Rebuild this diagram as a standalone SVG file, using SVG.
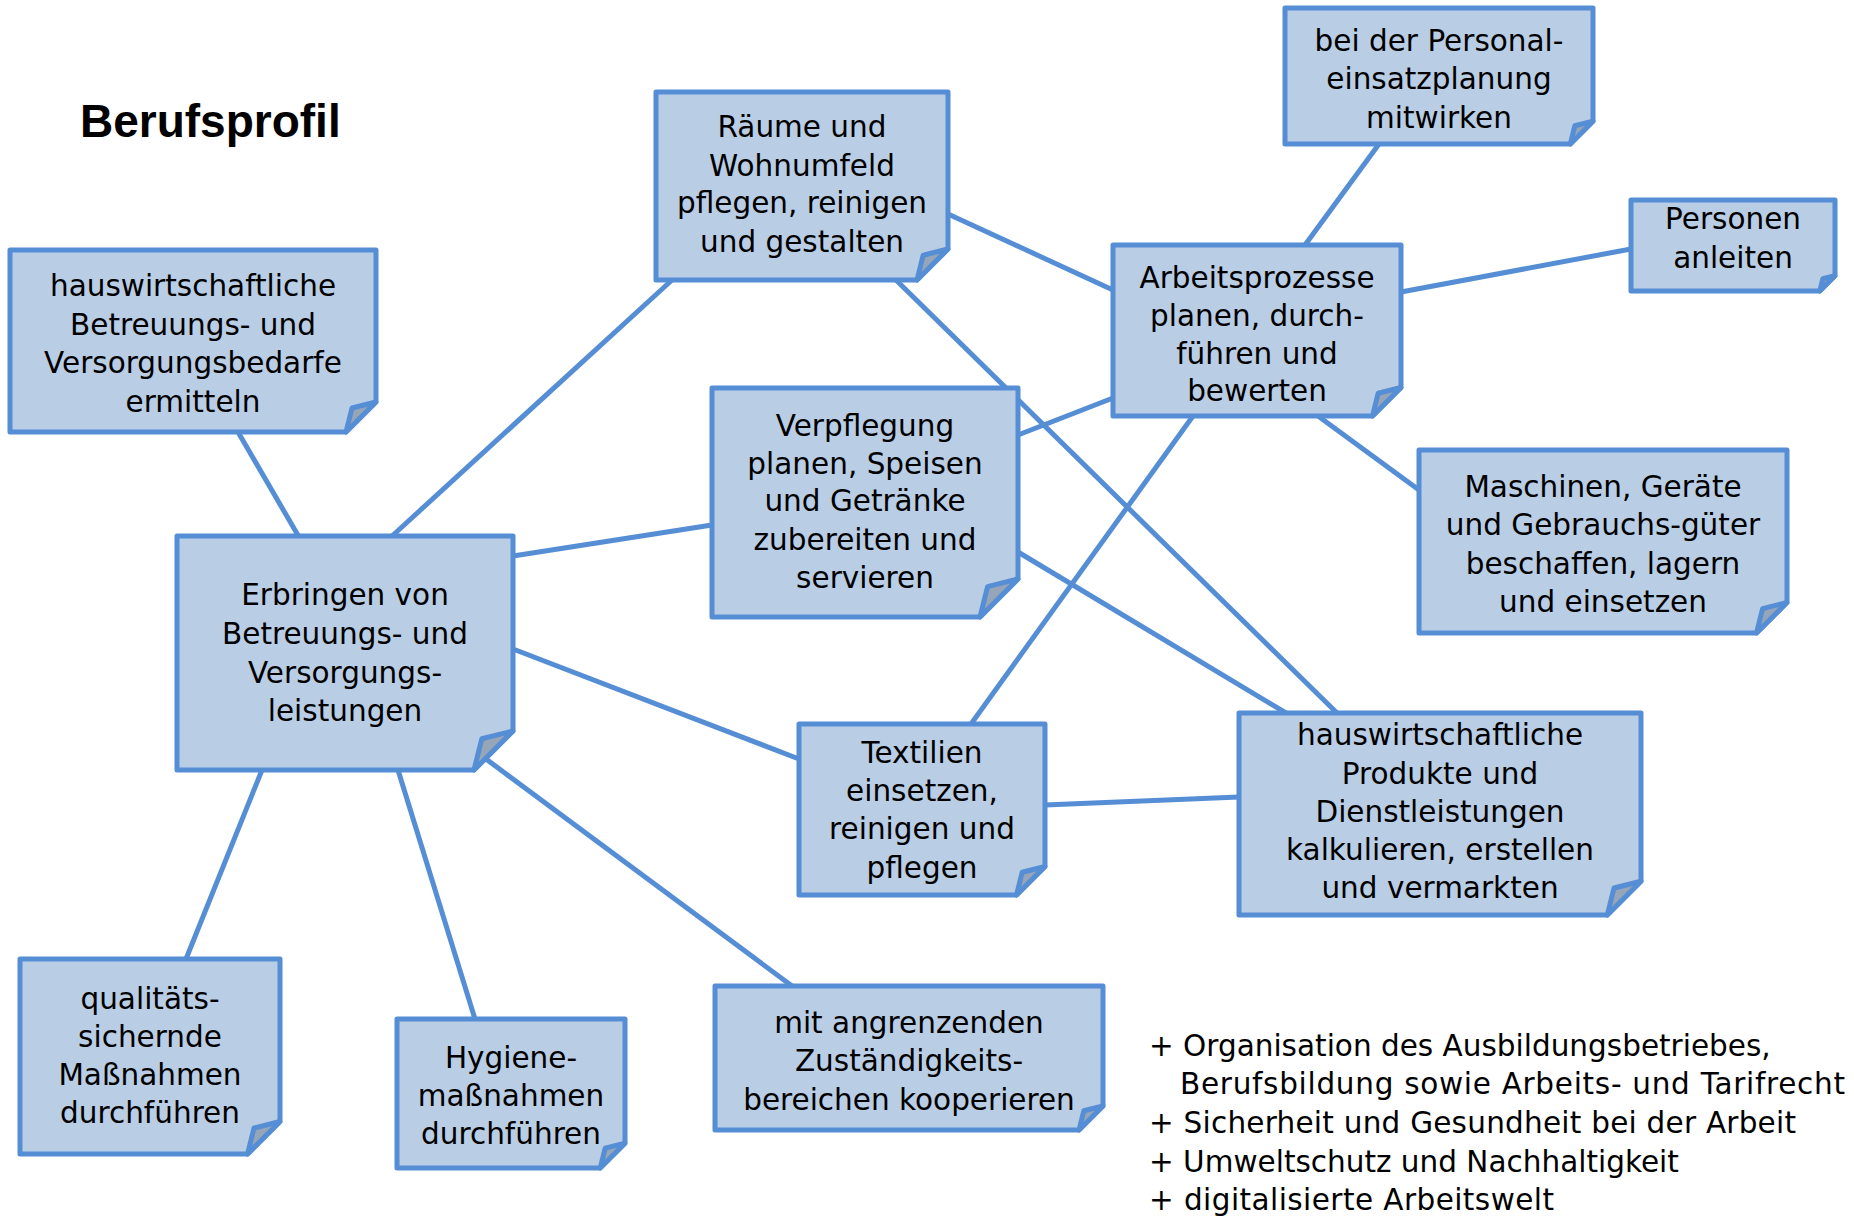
<svg xmlns="http://www.w3.org/2000/svg" width="1854" height="1221" viewBox="0 0 1854 1221">
<style>
.bg{fill:#ffffff}
.note{fill:#B9CDE5;stroke:#558ED5;stroke-width:5;stroke-linejoin:round}
.fold{fill:#96A5B8;stroke:#558ED5;stroke-width:5;stroke-linejoin:round}
.con line{stroke:#558ED5;stroke-width:5;stroke-linecap:butt}
.t{font-family:"DejaVu Sans",sans-serif;font-size:29.5px;fill:#000;text-anchor:middle}
.b{font-family:"DejaVu Sans",sans-serif;font-size:29.5px;fill:#000}
.title{font-family:"Liberation Sans",Arial,sans-serif;font-size:46px;font-weight:bold;fill:#000}
</style>
<rect class="bg" x="0" y="0" width="1854" height="1221"/>
<text class="title" x="80" y="137">Berufsprofil</text>
<g id="connectors" class="con">
<line x1="238" y1="432" x2="299" y2="537"/>
<line x1="391" y1="537" x2="672" y2="280"/>
<line x1="513" y1="556" x2="712" y2="525"/>
<line x1="513" y1="649" x2="799" y2="759"/>
<line x1="486" y1="759" x2="792" y2="986"/>
<line x1="398" y1="770" x2="475" y2="1019"/>
<line x1="262" y1="770" x2="186" y2="959"/>
<line x1="948" y1="214" x2="1113" y2="290"/>
<line x1="896" y1="280" x2="1337" y2="713"/>
<line x1="1018" y1="435" x2="1113" y2="398"/>
<line x1="1018" y1="552" x2="1286" y2="713"/>
<line x1="1193" y1="416" x2="971" y2="724"/>
<line x1="1305" y1="245" x2="1379" y2="144"/>
<line x1="1401" y1="292" x2="1631" y2="249"/>
<line x1="1318" y1="416" x2="1419" y2="490"/>
<line x1="1045" y1="805" x2="1239" y2="797"/>
</g>
<g id="n-bedarfe">
<path class="note" d="M10,250 H376 V402 L346,432 H10 Z"/>
<path class="fold" d="M346,432 L352,408 L376,402 Z"/>
<text class="t" x="193" y="296">hauswirtschaftliche</text>
<text class="t" x="193" y="335">Betreuungs- und</text>
<text class="t" x="193" y="373">Versorgungsbedarfe</text>
<text class="t" x="193" y="412">ermitteln</text>
</g>
<g id="n-raeume">
<path class="note" d="M656,92 H948 V249 L917,280 H656 Z"/>
<path class="fold" d="M917,280 L923.2,255.2 L948,249 Z"/>
<text class="t" x="802" y="136.5">Räume und</text>
<text class="t" x="802" y="175.5">Wohnumfeld</text>
<text class="t" x="802" y="213">pflegen, reinigen</text>
<text class="t" x="802" y="252">und gestalten</text>
</g>
<g id="n-verpflegung">
<path class="note" d="M712,388 H1018 V579 L980,617 H712 Z"/>
<path class="fold" d="M980,617 L987.6,586.6 L1018,579 Z"/>
<text class="t" x="865" y="436">Verpflegung</text>
<text class="t" x="865" y="474">planen, Speisen</text>
<text class="t" x="865" y="511">und Getränke</text>
<text class="t" x="865" y="550">zubereiten und</text>
<text class="t" x="865" y="588">servieren</text>
</g>
<g id="n-arbeitsprozesse">
<path class="note" d="M1113,245 H1401 V387.5 L1372.5,416 H1113 Z"/>
<path class="fold" d="M1372.5,416 L1378.2,393.2 L1401,387.5 Z"/>
<text class="t" x="1257" y="288">Arbeitsprozesse</text>
<text class="t" x="1257" y="326">planen, durch-</text>
<text class="t" x="1257" y="364">führen und</text>
<text class="t" x="1257" y="401">bewerten</text>
</g>
<g id="n-personal">
<path class="note" d="M1285,8 H1593 V121.3 L1570.3,144 H1285 Z"/>
<path class="fold" d="M1570.3,144 L1574.8,125.8 L1593,121.3 Z"/>
<text class="t" x="1439" y="51">bei der Personal-</text>
<text class="t" x="1439" y="89">einsatzplanung</text>
<text class="t" x="1439" y="128">mitwirken</text>
</g>
<g id="n-personen">
<path class="note" d="M1631,200 H1835 V275.8 L1819.8,291 H1631 Z"/>
<path class="fold" d="M1819.8,291 L1822.8,278.8 L1835,275.8 Z"/>
<text class="t" x="1733" y="229">Personen</text>
<text class="t" x="1733" y="268">anleiten</text>
</g>
<g id="n-maschinen">
<path class="note" d="M1419,450 H1787 V602.5 L1756.5,633 H1419 Z"/>
<path class="fold" d="M1756.5,633 L1762.6,608.6 L1787,602.5 Z"/>
<text class="t" x="1603" y="497">Maschinen, Geräte</text>
<text class="t" x="1603" y="535">und Gebrauchs-güter</text>
<text class="t" x="1603" y="574">beschaffen, lagern</text>
<text class="t" x="1603" y="612">und einsetzen</text>
</g>
<g id="n-produkte">
<path class="note" d="M1239,713 H1641 V881.3 L1607.3,915 H1239 Z"/>
<path class="fold" d="M1607.3,915 L1614,888 L1641,881.3 Z"/>
<text class="t" x="1440" y="745">hauswirtschaftliche</text>
<text class="t" x="1440" y="784">Produkte und</text>
<text class="t" x="1440" y="822">Dienstleistungen</text>
<text class="t" x="1440" y="860">kalkulieren, erstellen</text>
<text class="t" x="1440" y="898">und vermarkten</text>
</g>
<g id="n-textilien">
<path class="note" d="M799,724 H1045 V866.5 L1016.5,895 H799 Z"/>
<path class="fold" d="M1016.5,895 L1022.2,872.2 L1045,866.5 Z"/>
<text class="t" x="922" y="763">Textilien</text>
<text class="t" x="922" y="801">einsetzen,</text>
<text class="t" x="922" y="839">reinigen und</text>
<text class="t" x="922" y="878">pflegen</text>
</g>
<g id="n-erbringen">
<path class="note" d="M177,536 H513 V731 L474,770 H177 Z"/>
<path class="fold" d="M474,770 L481.8,738.8 L513,731 Z"/>
<text class="t" x="345" y="605">Erbringen von</text>
<text class="t" x="345" y="644">Betreuungs- und</text>
<text class="t" x="345" y="683">Versorgungs-</text>
<text class="t" x="345" y="721">leistungen</text>
</g>
<g id="n-qualitaet">
<path class="note" d="M20,959 H280 V1121.5 L247.5,1154 H20 Z"/>
<path class="fold" d="M247.5,1154 L254,1128 L280,1121.5 Z"/>
<text class="t" x="150" y="1009">qualitäts-</text>
<text class="t" x="150" y="1047">sichernde</text>
<text class="t" x="150" y="1085">Maßnahmen</text>
<text class="t" x="150" y="1123">durchführen</text>
</g>
<g id="n-hygiene">
<path class="note" d="M397,1019 H625 V1143.2 L600.2,1168 H397 Z"/>
<path class="fold" d="M600.2,1168 L605.2,1148.2 L625,1143.2 Z"/>
<text class="t" x="511" y="1068">Hygiene-</text>
<text class="t" x="511" y="1106">maßnahmen</text>
<text class="t" x="511" y="1144">durchführen</text>
</g>
<g id="n-kooperieren">
<path class="note" d="M715,986 H1103 V1106 L1079,1130 H715 Z"/>
<path class="fold" d="M1079,1130 L1083.8,1110.8 L1103,1106 Z"/>
<text class="t" x="909" y="1033">mit angrenzenden</text>
<text class="t" x="909" y="1071">Zuständigkeits-</text>
<text class="t" x="909" y="1110">bereichen kooperieren</text>
</g>
<g id="extras">
<text class="b" x="1149" y="1056">+ Organisation des Ausbildungsbetriebes,</text>
<text class="b" x="1180" y="1094" textLength="665">Berufsbildung sowie Arbeits- und Tarifrecht</text>
<text class="b" x="1149" y="1133" textLength="647">+ Sicherheit und Gesundheit bei der Arbeit</text>
<text class="b" x="1149" y="1172">+ Umweltschutz und Nachhaltigkeit</text>
<text class="b" x="1149" y="1210" textLength="405">+ digitalisierte Arbeitswelt</text>
</g>
</svg>
